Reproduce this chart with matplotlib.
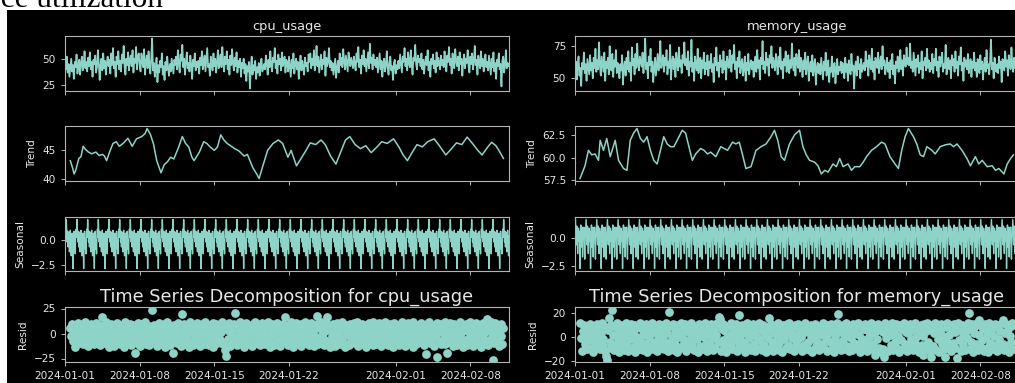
import numpy as np
import pandas as pd
import matplotlib
matplotlib.use("Agg")
import matplotlib.pyplot as plt
from matplotlib.ticker import MultipleLocator
from matplotlib.patches import Rectangle

# ---------------- data ----------------
START = "2024-01-01"
N_HOURS = 1000
series_names = ["cpu_usage", "memory_usage"]
x_tick_labels = ["2024-01-01", "2024-01-08", "2024-01-15", "2024-01-22", "2024-02-01", "2024-02-08"]

# observed values, one every 2 hours
cpu_observed = [
 48, 40, 52, 37, 45, 33, 41, 50, 38, 44, 31, 47, 42, 54, 36, 43, 49, 35, 46, 52, 39, 44, 57, 41, 47,
 38, 51, 43, 56, 40, 47, 33, 49, 45, 53, 37, 42, 58, 46, 30, 44, 50, 39, 55, 41, 48, 35, 46, 52, 43,
 49, 36, 55, 44, 60, 41, 47, 33, 52, 45, 57, 40, 48, 38, 54, 46, 62, 42, 35, 50, 44, 56, 39, 49, 53,
 43, 58, 37, 50, 46, 61, 40, 52, 55, 44, 38, 55, 48, 42, 59, 35, 47, 53, 41, 57, 45, 36, 50, 69, 39,
 46, 33, 40, 51, 28, 44, 37, 48, 42, 55, 35, 43, 30, 47, 39, 52, 41, 34, 45, 38, 50, 43, 36, 49, 44,
 52, 40, 58, 45, 37, 54, 48, 63, 42, 50, 35, 47, 56, 41, 46, 38, 53, 44, 31, 49, 43, 55, 39, 47, 42,
 48, 36, 51, 44, 57, 40, 46, 53, 38, 49, 60, 42, 45, 34, 52, 47, 39, 55, 43, 50, 37, 46, 58, 41, 48,
 54, 42, 61, 47, 38, 52, 45, 57, 40, 49, 35, 53, 44, 59, 46, 39, 51, 43, 56, 37, 48, 42, 50, 33, 46,
 41, 50, 36, 45, 29, 43, 38, 47, 22, 40, 52, 35, 44, 39, 48, 31, 42, 37, 46, 34, 43, 50, 38, 41, 45,
 40, 53, 46, 35, 49, 42, 57, 44, 38, 51, 47, 60, 41, 48, 36, 54, 45, 50, 39, 56, 43, 47, 52, 37, 49,
 46, 38, 52, 43, 33, 49, 41, 55, 36, 45, 50, 40, 47, 31, 44, 53, 39, 48, 42, 35, 51, 43, 46, 38, 54,
 47, 55, 41, 50, 44, 58, 39, 48, 62, 43, 52, 37, 46, 54, 40, 49, 45, 57, 34, 51, 43, 47, 60, 42, 48,
 39, 46, 35, 43, 50, 32, 41, 48, 37, 55, 44, 51, 42, 59, 47, 40, 53, 45, 38, 56, 49, 43, 51, 46, 41,
 52, 44, 39, 55, 47, 61, 42, 49, 36, 53, 45, 58, 43, 50, 38, 47, 56, 41, 64, 46, 51, 40, 54, 44, 49,
 42, 51, 37, 46, 55, 40, 48, 33, 45, 50, 38, 44, 57, 41, 35, 47, 52, 39, 43, 30, 46, 49, 36, 44, 40,
 48, 41, 54, 45, 37, 52, 47, 60, 43, 50, 39, 56, 46, 42, 58, 44, 35, 51, 48, 63, 45, 40, 53, 47, 50,
 43, 55, 40, 49, 36, 46, 52, 44, 58, 39, 47, 33, 50, 45, 54, 41, 48, 37, 56, 43, 51, 46, 40, 53, 44,
 49, 42, 57, 45, 38, 53, 47, 61, 44, 50, 36, 55, 46, 41, 59, 48, 43, 52, 39, 56, 45, 50, 34, 47, 54,
 41, 50, 46, 58, 43, 37, 52, 45, 55, 40, 48, 62, 44, 49, 35, 53, 46, 41, 57, 43, 50, 38, 47, 54, 42,
 47, 39, 53, 44, 35, 50, 42, 56, 38, 46, 31, 49, 43, 55, 40, 45, 24, 48, 52, 37, 44, 58, 41, 46, 43,
]

memory_observed = [
 55, 63, 49, 60, 67, 52, 58, 44, 62, 57, 70, 54, 61, 48, 65, 59, 53, 68, 56, 62, 50, 66, 58, 73, 55,
 64, 57, 78, 60, 52, 67, 61, 55, 70, 48, 63, 58, 66, 53, 75, 60, 56, 69, 51, 64, 59, 72, 54, 62, 57,
 50, 61, 56, 68, 45, 59, 63, 52, 66, 57, 71, 55, 62, 48, 74, 60, 65, 53, 69, 58, 77, 61, 56, 67, 63,
 59, 70, 54, 64, 81, 57, 62, 50, 67, 60, 73, 55, 63, 47, 58, 66, 52, 61, 69, 56, 64, 79, 58, 62, 68,
 55, 66, 60, 72, 53, 63, 58, 76, 49, 62, 67, 57, 65, 51, 70, 61, 56, 74, 59, 64, 54, 68, 62, 78, 60,
 65, 57, 71, 52, 63, 59, 80, 55, 62, 48, 67, 60, 56, 73, 54, 61, 66, 50, 64, 58, 70, 53, 62, 57, 68,
 52, 63, 58, 69, 55, 61, 47, 66, 60, 74, 56, 62, 51, 68, 59, 64, 54, 71, 57, 63, 49, 67, 61, 58, 72,
 60, 55, 68, 62, 76, 57, 63, 50, 66, 59, 71, 54, 61, 65, 52, 58, 67, 48, 62, 56, 69, 53, 60, 64, 57,
 63, 51, 60, 67, 55, 72, 58, 64, 49, 66, 61, 79, 57, 63, 54, 70, 60, 65, 52, 68, 62, 75, 58, 66, 61,
 56, 69, 62, 53, 67, 59, 74, 57, 63, 50, 65, 60, 71, 55, 62, 68, 54, 64, 58, 77, 61, 56, 66, 52, 69,
 63, 58, 72, 55, 66, 60, 51, 64, 57, 70, 53, 61, 67, 48, 59, 63, 55, 68, 52, 60, 65, 45, 58, 62, 54,
 61, 53, 66, 57, 49, 63, 56, 70, 52, 59, 64, 47, 58, 55, 67, 51, 60, 62, 46, 57, 65, 53, 59, 56, 63,
 54, 62, 57, 50, 66, 55, 61, 48, 64, 58, 53, 69, 56, 60, 42, 59, 63, 52, 67, 57, 61, 50, 65, 55, 58,
 62, 56, 71, 59, 64, 52, 68, 60, 57, 73, 55, 63, 49, 66, 61, 58, 70, 54, 62, 67, 57, 75, 60, 64, 53,
 59, 66, 55, 62, 50, 64, 57, 69, 53, 60, 46, 63, 58, 67, 55, 61, 72, 57, 64, 52, 68, 62, 59, 74, 61,
 66, 60, 77, 58, 63, 55, 70, 61, 52, 65, 59, 68, 54, 62, 57, 71, 50, 63, 60, 66, 56, 73, 58, 64, 55,
 62, 57, 69, 54, 65, 60, 73, 56, 63, 51, 67, 59, 64, 70, 55, 61, 58, 76, 53, 62, 66, 57, 64, 50, 68,
 60, 65, 55, 71, 58, 63, 52, 67, 61, 74, 56, 62, 48, 66, 59, 64, 57, 69, 54, 61, 65, 51, 63, 58, 70,
 56, 62, 51, 65, 59, 54, 68, 57, 63, 49, 60, 66, 55, 72, 58, 61, 53, 64, 80, 57, 62, 50, 66, 59, 55,
 61, 54, 67, 58, 63, 47, 65, 60, 56, 71, 59, 64, 52, 68, 62, 57, 74, 60, 55, 66, 58, 63, 69, 56, 61,
]

# trend readings: (day offset from start, value)
cpu_trend_day = [
 0.5, 0.7, 0.85, 1.0, 1.3, 1.5, 1.7, 1.9, 2.2, 2.5, 2.9, 3.2, 3.5, 3.7, 3.9, 4.2, 4.5, 4.8, 5.1, 5.5,
 5.9, 6.3, 6.7, 7.2, 7.5, 7.7, 8.0, 8.3, 8.6, 9.0, 9.3, 9.6, 9.9, 10.2, 10.6, 11.0, 11.3, 11.6, 11.9, 12.1,
 12.6, 13.0, 13.3, 13.6, 14.0, 14.3, 14.6, 14.9, 15.2, 15.9, 16.3, 16.8, 17.1, 17.6, 18.0, 18.2, 18.5, 19.0, 19.5, 20.0,
 20.4, 20.9, 21.2, 21.7, 22.2, 22.6, 23.0, 23.5, 24.0, 24.4, 24.9, 25.4, 25.8, 26.3, 26.7, 27.2, 27.7, 28.2, 28.7, 29.2,
 29.7, 30.2, 30.8, 31.3, 31.7, 32.1, 32.5, 33.0, 33.5, 34.0, 34.6, 35.1, 35.7, 36.2, 36.7, 37.2, 37.7, 38.2, 38.7, 39.1,
 39.6, 40.0, 40.4, 40.8, 41.1,
]
cpu_trend = [
 43.2, 42.0, 40.9, 41.5, 43.6, 43.9, 45.7, 45.2, 44.7, 44.4, 44.7, 44.1, 44.3, 44.0, 43.2, 44.8, 46.2, 46.5, 45.7, 46.3,
 47.1, 45.7, 47.0, 47.4, 47.9, 48.8, 47.8, 46.1, 43.2, 41.1, 42.5, 43.0, 43.8, 43.5, 45.3, 47.4, 46.2, 45.6, 43.8, 43.2,
 44.7, 46.5, 46.2, 45.6, 45.0, 45.6, 47.7, 46.8, 46.2, 45.3, 44.9, 44.0, 44.3, 42.0, 40.8, 40.1, 42.0, 45.0, 46.2, 46.8,
 46.2, 43.8, 45.0, 42.3, 43.8, 45.0, 46.3, 46.0, 46.8, 46.0, 44.0, 42.6, 44.5, 46.8, 47.4, 46.0, 45.3, 45.8, 44.6, 45.5,
 46.5, 46.2, 47.0, 45.6, 44.2, 43.2, 44.5, 46.0, 45.6, 46.5, 47.0, 45.8, 44.2, 45.2, 46.3, 46.0, 47.3, 46.2, 45.0, 44.2,
 45.5, 46.4, 45.8, 44.6, 43.6,
]

memory_trend_day = [
 0.47, 0.94, 1.26, 1.57, 1.88, 2.2, 2.36, 2.67, 2.98, 3.3, 3.77, 4.08, 4.55, 4.87, 5.18, 5.5, 5.81, 6.13, 6.44, 6.75,
 7.07, 7.38, 7.7, 8.01, 8.32, 8.64, 8.95, 9.27, 9.58, 10.05, 10.37, 10.68, 11.0, 11.31, 11.78, 12.1, 12.41, 12.72, 13.2, 13.67,
 14.3, 14.77, 15.08, 15.4, 15.71, 16.02, 16.5, 16.97, 17.44, 17.91, 18.38, 18.7, 19.01, 19.33, 19.64, 20.11, 20.58, 21.05, 21.37, 21.68,
 21.99, 22.46, 22.78, 23.09, 23.41, 23.72, 24.19, 24.5, 24.82, 25.13, 25.6, 25.92, 26.23, 26.7, 27.02, 27.33, 27.8, 28.27, 28.74, 29.06,
 29.53, 30.0, 30.32, 30.63, 30.95, 31.26, 31.73, 32.04, 32.36, 32.67, 32.99, 33.46, 33.77, 34.24, 34.71, 35.18, 35.5, 35.81, 36.28, 36.75,
 37.07, 37.54, 37.85, 38.17, 38.64, 39.11, 39.42, 39.74, 40.21, 40.52, 40.84, 41.1,
]
memory_trend = [
 57.7, 59.1, 60.8, 60.3, 60.4, 59.7, 61.9, 60.8, 62.1, 60.1, 61.9, 59.7, 58.8, 58.6, 61.9, 62.7, 63.2, 62.1, 61.7, 62.3,
 60.8, 59.7, 59.3, 60.8, 62.3, 61.5, 61.2, 61.2, 61.9, 63.0, 62.7, 61.2, 59.7, 60.4, 61.0, 60.8, 60.4, 60.6, 60.1, 61.2,
 60.8, 61.7, 61.5, 61.7, 60.3, 58.8, 59.0, 60.8, 61.2, 61.5, 62.3, 63.0, 61.9, 60.1, 59.7, 61.5, 62.5, 63.0, 61.2, 60.3,
 59.7, 59.5, 59.1, 58.2, 58.6, 58.4, 59.3, 59.0, 59.9, 59.0, 59.3, 58.6, 59.0, 59.0, 59.5, 60.1, 60.8, 61.2, 61.7, 61.5,
 60.1, 59.3, 58.8, 60.8, 62.3, 63.2, 62.3, 61.5, 60.3, 60.1, 61.2, 60.8, 60.4, 61.2, 61.4, 61.5, 61.2, 61.5, 60.8, 59.9,
 59.1, 60.1, 59.3, 59.7, 59.0, 59.1, 58.6, 58.8, 58.2, 59.3, 59.9, 60.3,
]

# daily (24 hour) seasonal pattern
cpu_seasonal_day = [0.6, 1.1, 0.3, 2.1, 0.7, -0.2, 0.9, -0.7, 0.5, 0.8, -1.2, 0.2,
                    1.0, -0.1, -1.6, 0.4, 0.7, -0.5, -2.9, 0.1, 0.9, -0.9, 0.0, -1.4]
memory_seasonal_day = [0.8, 1.7, 0.4, -0.6, 1.1, 0.2, -1.4, 0.9, 0.9, -0.3, 0.6, -2.75,
                       0.5, 1.2, -0.8, 0.3, 1.0, -1.7, 0.7, 0.1, 1.0, -0.5, -1.9, 0.0]

# residuals, one every 2 hours from hour 12 to hour 986
cpu_resid = [
 6, -2, 10, -7, 4, -13, 0, 8, -5, 11, -9, 2, -3, 7, -10, 5, -1, 12, -6,
 2, -12, 8, -4, 10, -8, 1, 6, -10, 3, 11, -6, -1, 9, -11, 4, -3, 17, 7, -9, 0, 12, -5, 5, -13,
 6, -2, 10, -9, 3, -12, 8, -5, 1, 11, -7, 4, -10, 7, -3, 9, -13, 2, 12, -6, 5, -8, 0, 10, -11,
 3, -6, 9, -1, -19, 7, -9, 11, 2, -12, 6, -4, 10, -8, 1, 12, -10, 5, -3, 8, -11, 4, -7, 24, -2,
 9, -5, 2, -12, 7, -8, 11, 0, -10, 5, -3, 10, -13, 6, -1, 12, -7, 3, -11, 8, -4, 1, -19, 9, -6,
 4, -9, 11, -2, 7, -12, 1, 20, -6, 10, -10, 3, -4, 8, -13, 6, 12, -7, 2, -11, 9, -1, 5, -8, 11,
 -5, 8, -12, 3, 10, -8, 0, 12, -10, 6, -3, 9, -11, 2, 7, -6, 11, -13, 4, -1, 10, -9, 5, -4, 8,
 -7, 2, 12, -10, 6, -16, -22, 9, -5, 3, 11, -12, 1, 7, -8, 10, 21, -3, 5, -11, 8, -6, 12, 0, -9,
 6, -13, 9, -2, 11, -8, 3, -10, 7, 0, -12, 10, -5, 4, 12, -9, 1, -6, 8, -11, 5, -3, 11, -7, 2,
 -10, 9, -4, 12, -8, 6, -13, 3, 10, -1, -11, 7, -6, 11, -9, 2, 8, -12, 5, -3, 10, -7, 1, 17, -5,
 8, -11, 4, -6, 12, -2, 9, -13, 6, -8, 11, 0, -10, 7, -4, 10, -12, 3, 5, -9, 12, -1, -7, 9, -11,
 4, -5, 11, -8, 2, -12, 8, -3, 10, 18, -10, 6, -7, 12, -1, 9, -11, 3, -6, 11, 17, -9, 5, -13, 7,
 -2, 10, -9, 6, -12, 3, 11, -6, 1, -10, 8, -4, 12, -8, 5, -13, 9, -1, 7, -11, 4, 10, -7, 2, -5,
 11, -9, 6, -3, 12, -12, 2, 8, -7, 10, -1, -10, 5, 9, -13, 4, -5, 11, -8, 1, 7, -11, 12, -4, 3,
 -10, 8, -6, 11, -2, 5, -12, 9, 0, -8, 12, -4, 3, -11, 7, -9, 10, -1, 6, -13, 11, -5, 2, 8, -7,
 9, -11, 4, -3, 12, -8, 1, 10, -12, 6, -5, 11, -9, 3, -1, 8, -13, 12, -6, 5, -10, 2, 9, -4, 7,
 -8, 11, -2, 6, -11, 3, -20, 10, -6, 1, 12, -9, 5, -4, 8, -12, 9, -1, 11, -23, 4, -7, 10, -10, 2,
 7, -5, 12, -10, 3, -19, 9, -2, 11, -8, 0, -12, 6, 10, -7, 4, -11, 8, -3, 12, -9, 1, 5, -13, 9,
 -6, 10, -11, 3, 8, -4, 12, -9, 1, -12, 7, -2, 11, -7, 5, -10, 9, 0, -13, 6, 11, -5, 2, -8, 10,
 15, -11, 4, -6, 12, -3, 8, -26, -9, 11, 1, -7, 9, -12, 5, -2, 10, -10, 6,
]

memory_resid = [
 12, -1, -12, 5, 10, -6, 3, -10, 8, 0, -9, 11, -3, 6, -13, 4, 9, -7, 1,
 11, -5, 7, -10, 3, 12, -8, -2, 9, -12, -16, -19, 6, 16, -4, 10, -9, 23, 2, -11, 8, -6, 12, -1, -13,
 5, -8, 10, -3, 1, -11, 7, 12, -7, 4, -12, 9, -2, 11, -9, 3, 6, -13, 10, -5, 0, 8, -10, 12, -4,
 7, -11, 2, 9, -6, 11, -13, 5, -1, 10, -8, 3, 12, -10, 6, -4, 8, -12, 1, 11, -7, 4, -9, 10, -2,
 -10, 6, 12, -5, 3, -12, 21, -8, 9, -1, 11, -11, 4, -6, 10, -13, 7, 0, -9, 12, 2, -7, 8, -3, 11,
 -12, 5, -4, 10, -9, 1, 12, -6, 7, -11, 3, 9, -2, -13, 11, 6, -8, 4, 10, -10, 0, 12, -5, 8, -12,
 3, 9, -7, 11, -1, -11, 6, 10, -9, 2, 12, -4, 17, 15, -12, 7, -3, 11, -8, 5, -13, 9, 1, -6, 10,
 -5, 12, -10, 4, 8, -2, 11, -12, 6, -7, 18, 1, -9, 10, -4, 7, -13, 3, 12, -8, 5, -1, 9, -11, 2,
 11, -6, 4, -12, 9, 0, -9, 12, -3, 7, -11, 5, 10, -7, 2, -13, 8, -1, 16, -10, 6, 11, -4, -12, 3,
 9, -8, 1, 12, -5, -11, 7, 4, -13, 10, -2, 6, -9, 11, 3, -7, 12, -10, 5, -1, 8, -12, 2, 10, -6,
 -3, 11, -9, 6, 0, -12, 9, 3, -7, 12, -10, 5, -4, 8, -11, 1, 10, -13, 7, -2, 11, -8, 4, -5, 9,
 -11, 2, 8, -6, 12, -9, 5, -1, 10, -12, 3, 7, -4, 11, -10, 6, -13, 9, 0, -7, 12, 19, -5, 4, -11,
 7, -3, 10, -10, 1, 12, -8, 5, -12, 9, -1, 6, -11, 11, -5, 3, 8, -9, 12, -6, 2, -13, 10, -2, 7,
 -8, 11, -4, 6, -12, 9, 0, -10, 12, 3, -6, 10, -11, -15, 5, -2, 11, -9, 7, -13, 8, 4, -10, -17, 12,
 -1, 9, -12, 5, 10, -7, 2, 12, -11, 6, -4, 11, -9, 1, 8, -13, 10, -3, 7, -10, 12, -6, 4, -12, 9,
 3, -8, 11, -2, 6, -11, 9, -5, 12, 0, -10, 7, -13, 4, 10, -7, 1, -15, 11, -9, 5, 12, -4, 8, -12,
 -17, 6, 10, -8, 3, 12, -11, 7, -2, 9, -13, 5, 11, -6, 1, -10, -17, 8, -4, 12, -9, 2, 10, -12, 6,
 -5, 11, -9, 4, 8, -18, 12, -3, 6, -12, 10, -7, 1, 9, -11, 5, -1, 12, 20, -10, 7, -4, 11, -13, 3,
 9, -6, 12, -11, 14, 2, -8, 10, -3, 7, -12, 11, 0, -9, 6, -13, 12, -5, 4, 9, -10, 1, 11, -7, 8,
 -12, 10, -2, 5, -9, 12, -6, 14, -11, 3, 11, -8, 7, -13, 1, 9, -4, 12, -10,
]

# ---------------- style ----------------
LINE = "#8dd3c7"
FG = "#e6e6e6"
SPINE = "#b4b4b4"
W, H = 1015, 383

plt.rcParams["font.family"] = ["DejaVu Sans"]
fig = plt.figure(figsize=(W / 100, H / 100), dpi=100, facecolor="white")
fig.patches.append(Rectangle((7 / W, 0), 1, (H - 10) / H, transform=fig.transFigure,
                             facecolor="black", edgecolor="none", zorder=-10))
fig.text(163 / W, (H - 7) / H, "Resource utilization", ha="right", va="baseline",
         fontsize=22.5, family="Liberation Serif", color="black")

start = pd.Timestamp(START)
hours = pd.date_range(START, periods=N_HOURS, freq="h")
obs_t = hours[::2]
resid_t = hours[12:988:2]

data = {
    "cpu_usage": dict(obs=cpu_observed, tday=cpu_trend_day, trend=cpu_trend,
                      seas=cpu_seasonal_day, resid=cpu_resid,
                      steps=(25, 5, 2.5, 25)),
    "memory_usage": dict(obs=memory_observed, tday=memory_trend_day, trend=memory_trend,
                         seas=memory_seasonal_day, resid=memory_resid,
                         steps=(25, 2.5, 2.5, 20)),
}

col_left = [65, 575]
ax_w = 444
rows = [(36, 91), (126, 181), (217, 271), (307, 362)]
tick_dates = [pd.Timestamp(d) for d in x_tick_labels]

for ci, name in enumerate(series_names):
    d = data[name]
    seasonal = np.tile(d["seas"], N_HOURS // 24 + 1)[:N_HOURS]
    trend_t = start + pd.to_timedelta(d["tday"], unit="D")
    axes = []
    for ri, (top, bot) in enumerate(rows):
        ax = fig.add_axes([col_left[ci] / W, (H - bot) / H, ax_w / W, (bot - top) / H])
        ax.set_facecolor("black")
        for s in ax.spines.values():
            s.set_color(SPINE)
            s.set_linewidth(0.8)
        ax.tick_params(colors=SPINE, labelcolor=FG, labelsize=7.6, length=3, width=0.7)
        ax.yaxis.set_major_locator(MultipleLocator(d["steps"][ri]))
        axes.append(ax)

    axes[0].plot(obs_t, d["obs"], color=LINE, lw=1.25)
    axes[0].set_title(name, color=FG, fontsize=9.4, pad=4)
    axes[1].plot(trend_t, d["trend"], color=LINE, lw=1.1)
    axes[1].set_ylabel("Trend", color=FG, fontsize=7.6)
    axes[2].plot(hours, seasonal, color=LINE, lw=1.0)
    axes[2].set_ylabel("Seasonal", color=FG, fontsize=7.6)
    axes[3].plot(resid_t, d["resid"], marker="o", linestyle="none", color=LINE,
                 markersize=6.3, markeredgewidth=0)
    axes[3].set_ylabel("Resid", color=FG, fontsize=7.6)
    axes[3].set_title(f"Time Series Decomposition for {name}", color=FG,
                      fontsize=12.8, pad=4)

    for ri, ax in enumerate(axes):
        ax.set_xlim(hours[0], hours[-1])
        ax.set_xticks(tick_dates)
        if ri < 3:
            ax.set_xticklabels([])
        else:
            ax.set_xticklabels(x_tick_labels)

fig.savefig("out.png", dpi=100, facecolor=fig.get_facecolor())
